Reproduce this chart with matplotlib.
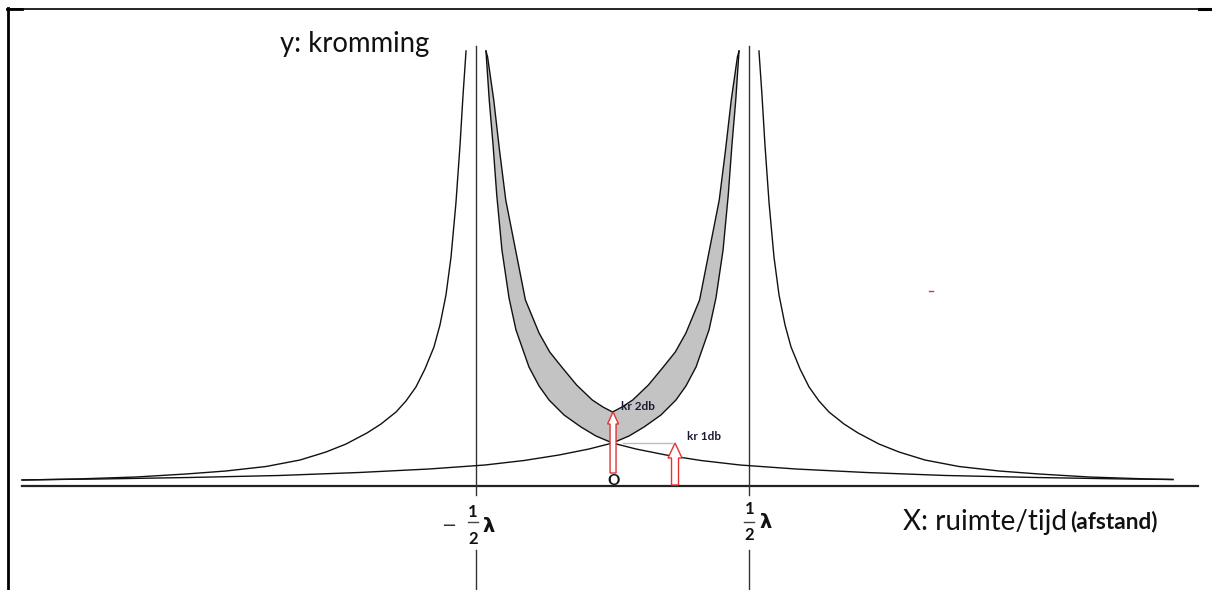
import matplotlib
matplotlib.use("Agg")
import matplotlib.pyplot as plt
import numpy as np
from matplotlib.patches import FancyArrow

# ---------------- data ----------------
# x in units of half a wavelength (peaks at -1/2 lambda and +1/2 lambda), y = curvature (arbitrary units)
peak_positions = [-1.0, 1.0]

# outer branch profile (distance from peak, curvature)
outer_d = [0.073, 0.095, 0.117, 0.147, 0.183, 0.220, 0.264, 0.308, 0.374, 0.440, 0.513,
           0.586, 0.696, 0.799, 0.952, 1.099, 1.289, 1.538, 1.832, 2.125, 2.491, 2.930,
           3.106, 3.326]
outer_y = [4.34, 3.90, 3.40, 2.82, 2.28, 1.90, 1.60, 1.38, 1.16, 0.98, 0.84,
           0.73, 0.61, 0.52, 0.41, 0.33, 0.25, 0.185, 0.14, 0.11, 0.08, 0.06,
           0.055, 0.05]

# inner branch profile (towards and past the other peak)
inner_d = [0.073, 0.097, 0.125, 0.152, 0.190, 0.242, 0.293, 0.388, 0.462, 0.535, 0.645,
           0.769, 0.879, 1.000, 1.172, 1.392, 1.648, 1.934, 2.344, 2.857, 3.443, 4.103,
           4.762, 5.106, 5.326]
inner_y = [4.34, 3.85, 3.40, 2.90, 2.35, 1.87, 1.55, 1.18, 0.99, 0.85, 0.70,
           0.58, 0.49, 0.42, 0.36, 0.30, 0.245, 0.20, 0.16, 0.125, 0.095, 0.075,
           0.06, 0.055, 0.05]

# upper edge of the grey band (double curvature)
band_d = [0.073, 0.085, 0.130, 0.172, 0.218, 0.290, 0.362, 0.462, 0.540, 0.628, 0.737,
          0.852, 0.930, 1.000]
band_y = [4.34, 4.28, 3.85, 3.35, 2.85, 2.35, 1.85, 1.52, 1.33, 1.18, 1.00,
          0.85, 0.78, 0.73]

tail_left = -4.326
tail_right = 4.106

kr1_value = 0.42   # single curvature at the crossing
kr2_value = 0.73   # double curvature at the cusp
kr1_x = 0.458
kr2_x = 0.004

# ---------------- figure ----------------
W, H = 1212, 590
fig = plt.figure(figsize=(W / 100, H / 100), dpi=100)
ax = fig.add_axes([0, 0, 1, 1])
X0, SX, Y0, SY = 612.5, 136.5, 485.0, 100.0
ax.set_xlim(-X0 / SX, (W - X0) / SX)
ax.set_ylim(-(H - Y0) / SY, Y0 / SY)
ax.axis("off")


def px(x):
    return (x - X0) / SX


def py(y):
    return (Y0 - y) / SY


LINE = "#111111"
od, oy = np.array(outer_d), np.array(outer_y)
idd, iy = np.array(inner_d), np.array(inner_y)
bd, by = np.array(band_d), np.array(band_y)

# grey band (between single curve and double curve) on both sides of the centre
for p in peak_positions:
    s = 1 if p < 0 else -1
    m = idd <= 1.0 + 1e-9
    xs = np.concatenate([p + s * idd[m], (p + s * bd)[::-1]])
    ys = np.concatenate([iy[m], by[::-1]])
    ax.fill(xs, ys, color="#c3c3c3", lw=0, zorder=2)
    ax.plot(p + s * bd, by, color=LINE, lw=1.0, zorder=4)

# curves
for p in peak_positions:
    xo = p - od if p < 0 else p + od
    keep = (xo >= tail_left - 1e-6) & (xo <= tail_right + 1e-6)
    ax.plot(xo[keep], oy[keep], color=LINE, lw=1.0, zorder=4)
    xi = p + idd if p < 0 else p - idd
    keep = (xi >= tail_left - 1e-6) & (xi <= tail_right + 1e-6)
    ax.plot(xi[keep], iy[keep], color=LINE, lw=1.0, zorder=4)

# axes lines
ax.plot([px(22), px(1198)], [py(485.5), py(485.5)], color="#222222", lw=1.6, zorder=3)
for p in peak_positions:
    ax.plot([p, p], [py(46), py(495)], color="#333333", lw=1.0, zorder=3)
    ax.plot([p, p], [py(550), py(592)], color="#333333", lw=1.0, zorder=3)

# helper line at crossing level
ax.plot([px(623), px(672)], [kr1_value, kr1_value], color="#bdbdbd", lw=1.0, zorder=3)

# hollow red arrows
ax.add_patch(FancyArrow(kr1_x, 0.0, 0, kr1_value, width=7 / SX, head_width=14 / SX,
                        head_length=15 / SY, length_includes_head=True,
                        fc="white", ec="#e8312f", lw=1.0, zorder=5))
ax.add_patch(FancyArrow(kr2_x, py(473), 0, kr2_value - py(473), width=6 / SX,
                        head_width=11 / SX, head_length=12 / SY,
                        length_includes_head=True,
                        fc="white", ec="#e8312f", lw=1.0, zorder=5))

# tiny red mark
ax.plot([px(929), px(933)], [py(291), py(291)], color="#e8312f", lw=1.0, zorder=3)

# border of the screenshot
fig.add_artist(plt.Line2D([8 / W, 8 / W], [0, 1 - 8 / H], color="black", lw=2.0))
fig.add_artist(plt.Line2D([8 / W, 1], [1 - 8.5 / H, 1 - 8.5 / H], color="black", lw=1.2))
fig.add_artist(plt.Line2D([7 / W, 22 / W], [1 - 9 / H, 1 - 9 / H], color="black", lw=2.0))
fig.add_artist(plt.Line2D([1199 / W, 1], [1 - 9 / H, 1 - 9 / H], color="black", lw=2.2))

TXT = "#111111"
SANS = ["Lato", "DejaVu Sans"]
GREEK = ["DejaVu Sans"]


def t(x, y, s, **kw):
    kw.setdefault("color", TXT)
    kw.setdefault("family", SANS)
    ax.text(px(x), py(y), s, zorder=6, **kw)


t(280, 44, "y: kromming", fontsize=19.8, ha="left", va="center")
t(903, 522, "X: ruimte/tijd", fontsize=20, ha="left", va="center")
t(1070, 521, "(afstand)", fontsize=16.3, fontweight="bold", ha="left", va="center")

# tick labels  -1/2 lambda  and  1/2 lambda
t(449, 526, "−", fontsize=13, ha="center", va="center", color="#333333", family=GREEK)
t(472.7, 512, "1", fontsize=12, fontweight="bold", ha="center", va="center")
t(472.7, 539, "2", fontsize=12, fontweight="bold", ha="center", va="center")
ax.plot([px(468), px(478)], [py(522), py(522)], color="#444444", lw=1.0, zorder=6)
t(489, 526, "λ", fontsize=14, fontweight="bold", ha="center", va="center", family=GREEK)

t(749.3, 509, "1", fontsize=12, fontweight="bold", ha="center", va="center")
t(749.3, 535, "2", fontsize=12, fontweight="bold", ha="center", va="center")
ax.plot([px(744), px(754)], [py(521.5), py(521.5)], color="#444444", lw=1.0, zorder=6)
t(766, 523, "λ", fontsize=14, fontweight="bold", ha="center", va="center", family=GREEK)

t(614, 481, "O", fontsize=11, fontweight="bold", ha="center", va="center")
t(621, 407, "kr 2db", fontsize=8.5, fontweight="bold", ha="left", va="center", color="#1a1a33")
t(687, 437, "kr 1db", fontsize=8.5, fontweight="bold", ha="left", va="center", color="#1a1a33")

fig.savefig("out.png", dpi=100, facecolor="white")
